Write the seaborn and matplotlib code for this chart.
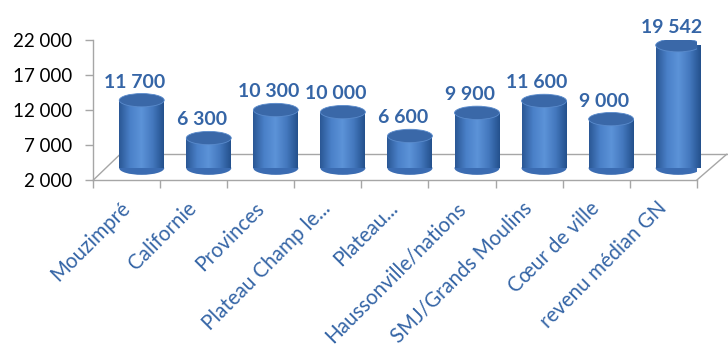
import numpy as np
import pandas as pd
import matplotlib
matplotlib.use("Agg")
import matplotlib.pyplot as plt
import matplotlib.transforms as mtransforms
import seaborn as sns
from matplotlib.patches import Ellipse
from matplotlib.colors import LinearSegmentedColormap

categories = ["Mouzimpré", "Californie", "Provinces", "Plateau Champ le...",
              "Plateau...", "Haussonville/nations", "SMJ/Grands Moulins",
              "Cœur de ville", "revenu médian GN"]
values = [11700, 6300, 10300, 10000, 6600, 9900, 11600, 9000, 19542]
value_labels = ["11 700", "6 300", "10 300", "10 000", "6 600", "9 900",
                "11 600", "9 000", "19 542"]
yticks = [2000, 7000, 12000, 17000, 22000]
ytick_labels = ["2 000", "7 000", "12 000", "17 000", "22 000"]

sns.set_theme(style="white")
plt.rcParams['font.family'] = ['Lato', 'DejaVu Sans']

df = pd.DataFrame({"cat": categories, "val": values})

fig = plt.figure(figsize=(7.28, 3.54), dpi=100)
ax = fig.add_axes([0.128, 0.491, 0.829, 0.396])

base = yticks[0]
sns.barplot(data=df, x="cat", y="val", ax=ax, color="#4679BF", width=0.67,
            saturation=1, zorder=3)

ax.set_ylim(yticks[0], yticks[-1])
ax.set_xlim(-0.5, len(categories) - 0.5)

# pseudo-3D depth offset (15 px right, 12 px up)
depth = mtransforms.offset_copy(ax.transData, fig=fig, x=15, y=12, units="dots")
label_tr = mtransforms.offset_copy(ax.transData, fig=fig, x=8, y=9, units="dots")

cmap = LinearSegmentedColormap.from_list(
    "cyl", ["#2A5794", "#4A80C8", "#5C93D8", "#4478BE", "#23508C"])
grad = np.linspace(0, 1, 256).reshape(1, -1)
ell_h = 1900
for p, v, lab in zip(ax.patches, values, value_labels):
    x0, w = p.get_x(), p.get_width()
    p.set_transform(depth)
    p.set_facecolor("none")
    p.set_edgecolor("none")
    im = ax.imshow(grad, cmap=cmap, aspect="auto",
                   extent=[x0, x0 + w, base, v], zorder=3, transform=depth)
    im.set_clip_path(p)
    bot = Ellipse((x0 + w / 2, base), w, ell_h, facecolor="#3B6CB2",
                  edgecolor="none", zorder=2.9, transform=depth)
    ax.add_patch(bot)
    top = Ellipse((x0 + w / 2, v), w, ell_h, facecolor="#3A68A8",
                  edgecolor="#5A8BCC", linewidth=0.6, zorder=4, transform=depth)
    ax.add_patch(top)
    ax.text(x0 + w / 2, v + 1800, lab, ha="center", va="bottom",
            color="#3565A6", fontsize=14, fontweight="bold", zorder=5,
            transform=label_tr)

# floor lines (pseudo 3D)
fl = "#A6A6A6"
ax.plot([0, 0.045], [0, 0.186], transform=ax.transAxes, color=fl,
        lw=1, clip_on=False, zorder=1)
ax.plot([0.045, 1.06], [0.186, 0.186], transform=ax.transAxes, color=fl,
        lw=1, clip_on=False, zorder=1)
ax.plot([1.0, 1.05], [0, 0.186], transform=ax.transAxes, color=fl,
        lw=1, clip_on=False, zorder=1)

ax.set_yticks(yticks)
ax.set_yticklabels(ytick_labels, fontsize=13.5, color="black")
ax.set_xticks(range(len(categories)))
ax.set_xticklabels(categories, rotation=45, ha="right", va="center",
                   rotation_mode="anchor", fontsize=14.8, color="#3565A6")
ax.tick_params(axis="x", which="major", length=0, pad=18)
ax.set_xticks(np.arange(-0.5, len(categories), 1.0), minor=True)
ax.tick_params(axis="x", which="minor", length=6, color=fl, width=1,
               direction="out", bottom=True)
ax.tick_params(axis="y", length=6, color=fl, width=1, direction="out",
               left=True, pad=9)
ax.set_xlabel("")
ax.set_ylabel("")
for s in ["top", "right"]:
    ax.spines[s].set_visible(False)
for s in ["left", "bottom"]:
    ax.spines[s].set_color(fl)
    ax.spines[s].set_linewidth(1)

fig.savefig("out.png", dpi=100)
